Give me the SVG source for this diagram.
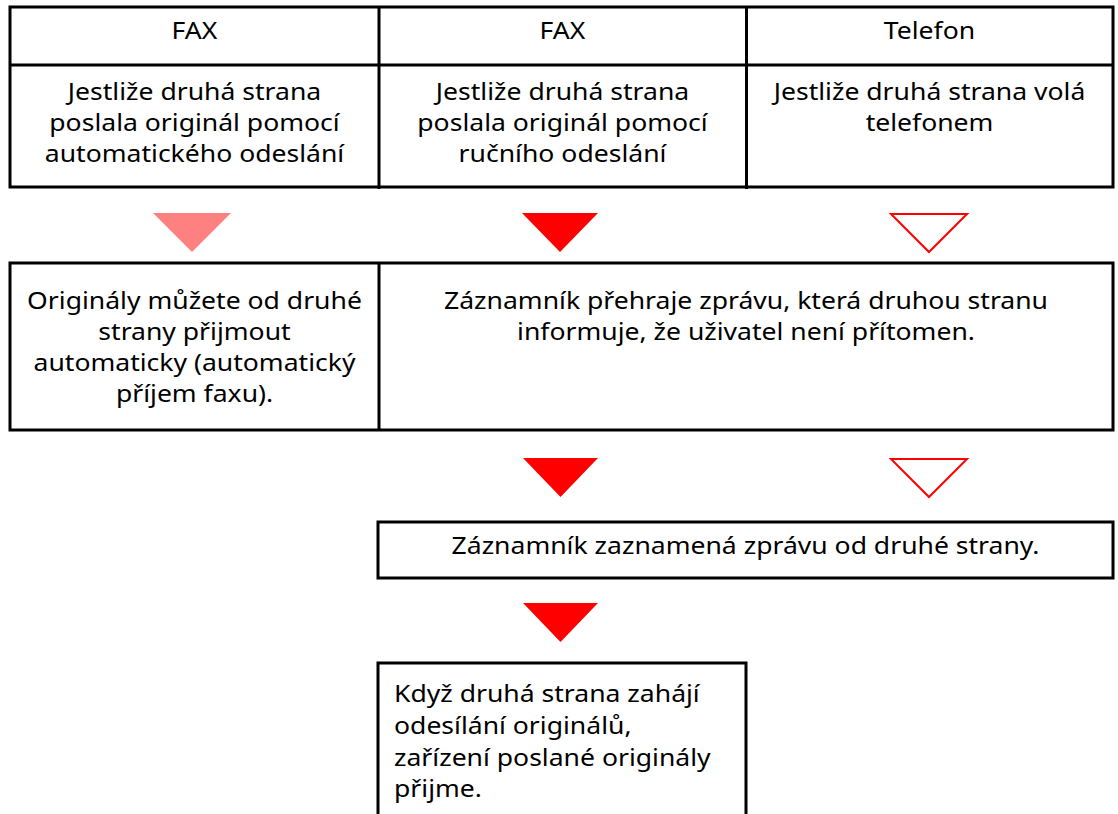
<svg xmlns="http://www.w3.org/2000/svg" width="1118" height="814" viewBox="0 0 1118 814">
<style>
.ln{stroke:#000;stroke-width:3;fill:none}
.t{font-family:"Noto Sans","Open Sans",sans-serif;font-size:23.5px;fill:#000}
.c{text-anchor:middle}
.full{fill:#ff0000}
.pale{fill:#ff8080}
.open{fill:#fff;stroke:#ff0000;stroke-width:2}
</style>
<rect width="1118" height="814" fill="#fff"/>
<g id="table1">
<path class="ln" d="M10 7H1113V187H10Z M10 65H1113 M379 7V189 M746.5 7V189"/>
<text class="t c" transform="translate(194.5 39) scale(1.13 1)">FAX</text>
<text class="t c" transform="translate(562.5 39) scale(1.13 1)">FAX</text>
<text class="t c" transform="translate(929.5 39) scale(1.13 1)">Telefon</text>
<text class="t c" transform="translate(194.5 100) scale(1.13 1)">Jestliže druhá strana</text>
<text class="t c" transform="translate(194.5 131) scale(1.13 1)">poslala originál pomocí</text>
<text class="t c" transform="translate(194.5 162) scale(1.13 1)">automatického odeslání</text>
<text class="t c" transform="translate(562.5 100) scale(1.13 1)">Jestliže druhá strana</text>
<text class="t c" transform="translate(562.5 131) scale(1.13 1)">poslala originál pomocí</text>
<text class="t c" transform="translate(562.5 162) scale(1.13 1)">ručního odeslání</text>
<text class="t c" transform="translate(929.5 100) scale(1.13 1)">Jestliže druhá strana volá</text>
<text class="t c" transform="translate(929.5 131) scale(1.13 1)">telefonem</text>
</g>
<g id="connectors">
<polygon class="pale" points="153,213 231,213 192,252"/>
<polygon class="full" points="522,213 598,213 560,252"/>
<polygon class="open" points="891,214 967,214 929,252"/>
<polygon class="full" points="523,458 598,458 560.5,497"/>
<polygon class="open" points="891,459 967,459 929,497"/>
<polygon class="full" points="523,603 598,603 560.5,642"/>
</g>
<g id="table2">
<path class="ln" d="M10 263H1113V430H10Z M379 263V430"/>
<text class="t c" transform="translate(194.5 309) scale(1.13 1)">Originály můžete od druhé</text>
<text class="t c" transform="translate(194.5 340) scale(1.13 1)">strany přijmout</text>
<text class="t c" transform="translate(194.5 371) scale(1.13 1)">automaticky (automatický</text>
<text class="t c" transform="translate(194.5 402) scale(1.13 1)">příjem faxu).</text>
<text class="t c" transform="translate(746 309) scale(1.13 1)">Záznamník přehraje zprávu, která druhou stranu</text>
<text class="t c" transform="translate(746 340) scale(1.13 1)">informuje, že uživatel není přítomen.</text>
</g>
<g id="box3">
<rect class="ln" x="378" y="522" width="735" height="56"/>
<text class="t c" transform="translate(745.5 554) scale(1.13 1)">Záznamník zaznamená zprávu od druhé strany.</text>
</g>
<g id="box4">
<path class="ln" d="M378 816V663H746V816"/>
<text class="t" transform="translate(394 702) scale(1.13 1)">Když druhá strana zahájí</text>
<text class="t" transform="translate(394 734) scale(1.13 1)">odesílání originálů,</text>
<text class="t" transform="translate(394 765.5) scale(1.13 1)">zařízení poslané originály</text>
<text class="t" transform="translate(394 797) scale(1.13 1)">přijme.</text>
</g>
</svg>
